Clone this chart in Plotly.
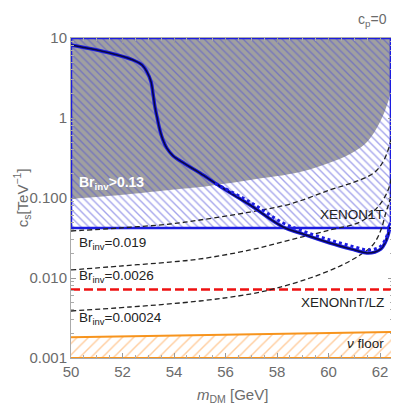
import plotly.graph_objects as go

# ---- data ----
m_br13 = [50.0, 51.9, 53.84, 55.01, 56.95, 58.89, 60.17, 61.02, 61.49, 62.0, 62.31, 62.46, 62.5]
c_br13 = [0.0972, 0.109, 0.126, 0.137, 0.168, 0.211, 0.285, 0.385, 0.5, 0.9, 1.6, 2.5, 2.99]

m_br019 = [50.0, 51.9, 53.84, 55.01, 56.95, 58.5, 60.05, 61.22, 61.8, 62.11, 62.31, 62.42, 62.49]
c_br019 = [0.0387, 0.0422, 0.0473, 0.0531, 0.0668, 0.0841, 0.126, 0.168, 0.211, 0.282, 0.398, 0.531, 0.944]

m_br0026 = [50.0, 51.9, 53.84, 55.01, 56.95, 58.5, 60.05, 61.22, 61.8, 62.11, 62.31, 62.42, 62.49]
c_br0026 = [0.0126, 0.0141, 0.0158, 0.0173, 0.0224, 0.0299, 0.0398, 0.0501, 0.0708, 0.0944, 0.126, 0.168, 0.299]

m_br00024 = [50.0, 52.29, 55.01, 56.95, 58.0, 59.28, 60.44, 61.22, 61.72, 62.03, 62.23, 62.38, 62.49]
c_br00024 = [0.00387, 0.00434, 0.00516, 0.0063, 0.0075, 0.01, 0.0141, 0.0194, 0.0259, 0.0398, 0.0668, 0.0944, 0.168]

m_curve = [50.0, 51.51, 52.41, 52.76, 52.95, 53.11, 53.18, 53.26, 53.34, 53.45, 53.57, 53.72, 53.95,
           54.4, 55.01, 55.78, 56.95, 58.23, 58.89, 60.05, 61.02, 61.49, 61.8, 62.03, 62.19, 62.31, 62.38]
c_curve = [8.18, 6.49, 5.31, 4.6, 3.76, 2.82, 2.05, 1.37, 1.03, 0.708, 0.531, 0.42, 0.34,
           0.27, 0.205, 0.14, 0.0818, 0.0434, 0.0365, 0.0274, 0.0224, 0.0205, 0.0211, 0.023, 0.0274, 0.0345, 0.0434]

m_dotted = [55.59, 56.95, 58.23, 58.89, 60.05, 61.02, 61.49, 61.8, 62.03, 62.23, 62.35]
c_dotted = [0.152, 0.0891, 0.0487, 0.0398, 0.0299, 0.0244, 0.0224, 0.023, 0.0251, 0.0316, 0.0422]

xenon1t = 0.0422
m_x1t_edge = 62.42
xenonnt = 0.0072

m_floor = [50.0, 56.0, 62.5]
c_floor = [0.00182, 0.00195, 0.00211]

yticks = [0.001, 0.01, 0.1, 1, 10]
yticktext = ["0.001", "0.010", "0.100", "1", "10"]
yminor = [k * d for d in [0.001, 0.01, 0.1, 1] for k in range(2, 10)]

FONT = "Liberation Sans, Arial, sans-serif"
GRAY = "#6b6b6b"
BLUE = "#1c1ce0"
HATCH = "#4a4ad8"

fig = go.Figure()

# Br_inv > 0.13 (gray)
fig.add_trace(go.Scatter(
    x=m_br13 + [62.5, 50.0], y=c_br13 + [10, 10],
    fill="toself", fillcolor="#a0a0a0", mode="lines", line=dict(width=0, shape="spline"),
    hoverinfo="skip", showlegend=False,
))

# XENON1T exclusion (hatched)
fig.add_trace(go.Scatter(
    x=[50.0, 62.3, m_x1t_edge, m_x1t_edge, 50.0, 50.0],
    y=[xenon1t, xenon1t, 0.05, 10, 10, xenon1t],
    fill="toself", fillcolor="rgba(0,0,0,0)",
    fillpattern=dict(shape="\\", fgcolor=HATCH, bgcolor="rgba(0,0,0,0)", size=5.5, solidity=0.25),
    mode="lines", line=dict(color=BLUE, width=2.5),
    hoverinfo="skip", showlegend=False,
))

# neutrino floor
fig.add_trace(go.Scatter(
    x=m_floor + [62.5, 50.0], y=c_floor + [0.001, 0.001],
    fill="toself", fillcolor="rgba(0,0,0,0)",
    fillpattern=dict(shape="/", fgcolor="#ff9a3c", bgcolor="white", size=8, solidity=0.18),
    mode="lines", line=dict(color="#f7941d", width=2),
    hoverinfo="skip", showlegend=False,
))

# XENONnT / LZ
fig.add_trace(go.Scatter(
    x=[50.0, 62.5], y=[xenonnt, xenonnt], mode="lines",
    line=dict(color="#ee1111", width=2.5, dash="9px,4px"), showlegend=False,
))

# Br_inv contours
for mm, cc in [(m_br019, c_br019), (m_br0026, c_br0026), (m_br00024, c_br00024)]:
    fig.add_trace(go.Scatter(
        x=mm, y=cc, mode="lines", line=dict(color="#222222", width=1.3, dash="5px,3px"),
        line_shape="spline", showlegend=False,
    ))

# relic curves
fig.add_trace(go.Scatter(
    x=m_curve, y=c_curve, mode="lines", line=dict(color=BLUE, width=3.5, shape="spline"),
    showlegend=False,
))
fig.add_trace(go.Scatter(
    x=m_curve, y=c_curve, mode="lines", line=dict(color="#0a0a40", width=1.5, shape="spline"),
    showlegend=False,
))
fig.add_trace(go.Scatter(
    x=m_dotted, y=c_dotted, mode="lines", line=dict(color=BLUE, width=3, dash="dot", shape="spline"),
    showlegend=False,
))

ann_font = dict(family=FONT, size=13.5, color="#222222")
notes = [
    ("<b>Br<sub>inv</sub>>0.13</b>", 0.019, 0.547, "left", dict(family=FONT, size=14, color="white")),
    ("Br<sub>inv</sub>=0.019", 0.019, 0.359, "left", ann_font),
    ("Br<sub>inv</sub>=0.0026", 0.019, 0.256, "left", ann_font),
    ("Br<sub>inv</sub>=0.00024", 0.019, 0.122, "left", ann_font),
    ("XENON1T", 0.978, 0.447, "right", ann_font),
    ("XENONnT/LZ", 0.978, 0.175, "right", ann_font),
    ("<i>ν</i> floor", 0.978, 0.044, "right", ann_font),
]
for text, xp, yp, anchor, font in notes:
    fig.add_annotation(text=text, x=xp, y=yp, xref="paper", yref="paper",
                       xanchor=anchor, yanchor="middle", showarrow=False, font=font)

fig.add_annotation(text="c<sub>p</sub>=0", x=0.935, y=1.092, xref="paper", yref="paper",
                   xanchor="center", yanchor="top",
                   showarrow=False, font=dict(family=FONT, size=14, color=GRAY))
fig.add_annotation(text="c<sub>s</sub>[TeV<sup>−1</sup>]", x=-0.193, y=0.5, xref="paper", yref="paper",
                   xanchor="left", yanchor="middle",
                   textangle=-90, showarrow=False, font=dict(family=FONT, size=15, color=GRAY))
fig.add_annotation(text="<i>m</i><sub>DM</sub> [GeV]", x=0.5, y=-0.116, xref="paper", yref="paper",
                   xanchor="center", yanchor="middle",
                   showarrow=False, font=dict(family=FONT, size=15, color=GRAY))

fig.update_xaxes(
    range=[50, 62.5], tickvals=[50, 52, 54, 56, 58, 60, 62], ticks="inside", ticklen=5,
    tickcolor="#999999", showline=True, linecolor="#aaaaaa", linewidth=1, mirror="ticks",
    showgrid=False, zeroline=False, tickfont=dict(family=FONT, size=15, color=GRAY),
    minor=dict(dtick=0.5, tick0=50, ticks="inside", ticklen=3, tickcolor="#aaaaaa", showgrid=False),
)
fig.update_yaxes(
    type="log", range=[-3, 1], tickvals=yticks, ticktext=yticktext, ticks="inside", ticklen=5,
    tickcolor="#999999", showline=True, linecolor="#aaaaaa", linewidth=1, mirror="ticks",
    showgrid=False, zeroline=False, tickfont=dict(family=FONT, size=15, color=GRAY),
    minor=dict(tickvals=yminor, ticks="inside", ticklen=3, tickcolor="#aaaaaa", showgrid=False),
)
# page body keeps an 8px margin, so the figure is 8px smaller and margins shifted
fig.update_layout(
    width=391, height=400, margin=dict(l=63, r=6, t=30, b=50),
    plot_bgcolor="white", paper_bgcolor="white", showlegend=False,
    font=dict(family=FONT),
)

fig.write_html("out.html")
